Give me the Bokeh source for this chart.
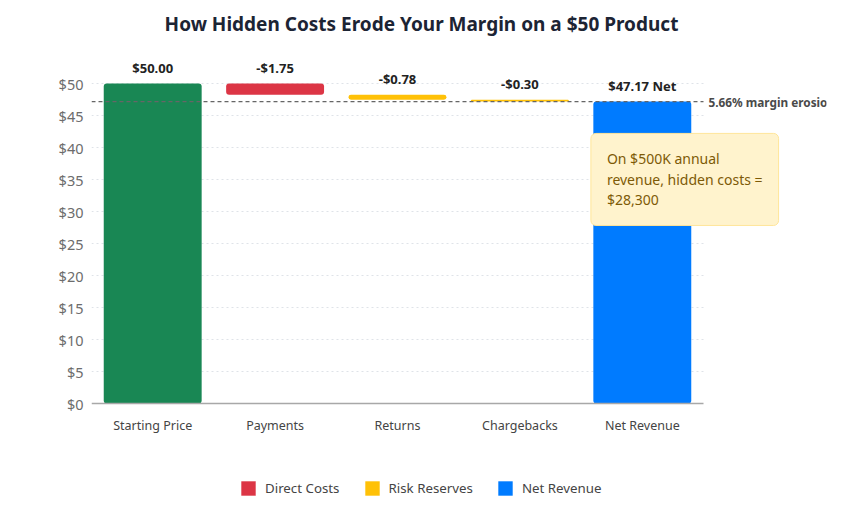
from bokeh.plotting import figure
from bokeh.models import (ColumnDataSource, FixedTicker, Legend, LegendItem, Label, Range1d)
from bokeh.embed import file_html
from bokeh.resources import INLINE
from bokeh.core.properties import value

# --- data -------------------------------------------------------------
title = "How Hidden Costs Erode Your Margin on a $50 Product"
categories = ["Starting Price", "Payments", "Returns", "Chargebacks", "Net Revenue"]
amounts = [50.00, -1.75, -0.78, -0.30, 47.17]
groups = ["Starting Price", "Direct Costs", "Risk Reserves", "Risk Reserves", "Net Revenue"]
group_colors = {
    "Starting Price": "#198754",
    "Direct Costs": "#dc3545",
    "Risk Reserves": "#ffc107",
    "Net Revenue": "#007bff",
}
y_ticks = [0, 5, 10, 15, 20, 25, 30, 35, 40, 45, 50]
annual_revenue = 500_000

FONT = "Noto Sans"

# --- waterfall geometry ---------------------------------------------
bottoms, tops, labels = [], [], []
running = 0.0
for i, a in enumerate(amounts):
    if i == 0:
        bottoms.append(0.0); tops.append(a); running = a
        labels.append(f"${a:.2f}")
    elif i == len(amounts) - 1:
        bottoms.append(0.0); tops.append(a)
        labels.append(f"${a:.2f} Net")
    else:
        tops.append(running); running += a; bottoms.append(running)
        labels.append(f"-${abs(a):.2f}")

xs = list(range(len(categories)))
src = ColumnDataSource(dict(
    x=xs, bottom=bottoms, top=tops, label=labels, cat=categories,
    zero=[0.0] * len(categories),
    color=[group_colors[g] for g in groups], group=groups,
))

net = amounts[-1]
erosion_pct = (amounts[0] - net) / amounts[0] * 100
hidden_cost = annual_revenue * erosion_pct / 100

# --- figure -----------------------------------------------------------
# The plotting frame fills the canvas vertically, so the heading, the
# category labels and the legend are all placed inside it.
W, H = 842, 506
LEFT, RIGHT = 91, 16
BASE_Y = 403          # pixel row of the $0 baseline
TITLE_Y = 23          # pixel row of the heading's centre
PX_PER_DOLLAR = 6.4
SLOT = 122.4          # pixel width of one category slot
frame_w = W - LEFT - RIGHT
x_end = -0.5 + frame_w / SLOT
y_end = BASE_Y / PX_PER_DOLLAR
y_start = -(H - BASE_Y) / PX_PER_DOLLAR

p = figure(width=W, height=H, output_backend="svg", toolbar_location=None,
           x_range=Range1d(-0.5, x_end), y_range=Range1d(y_start, y_end),
           min_border_left=LEFT, min_border_right=RIGHT,
           min_border_top=0, min_border_bottom=0,
           outline_line_color=None, background_fill_color="white",
           border_fill_color="white")
p.grid.visible = False
p.xaxis.visible = False

n = len(categories)

# heading, centred on the page
p.text(x=[(W / 2 - LEFT) / SLOT - 0.5], y=[(BASE_Y - TITLE_Y) / PX_PER_DOLLAR],
       text=[title], text_align="center", text_baseline="middle",
       text_font=value(FONT), text_font_size="19px", text_font_style="bold",
       text_color="#1c2434")

# dotted horizontal guides across the category slots
grid_y = y_ticks[1:]
p.segment(x0=[-0.5] * len(grid_y), x1=[n - 0.5] * len(grid_y),
          y0=grid_y, y1=grid_y, line_color="#dfe3e8", line_dash="2 3", line_width=1)

bars = p.vbar(x="x", bottom="bottom", top="top", width=0.8, source=src,
              fill_color="color", line_color=None, border_radius=3)

# baseline
p.segment(x0=[-0.5], x1=[n - 0.5], y0=[0], y1=[0],
          line_color="#a8a8a8", line_width=1.5)

# category labels under the baseline
p.text(x="x", y="zero", text="cat", source=src, y_offset=22,
       text_align="center", text_baseline="middle",
       text_font=value(FONT), text_font_size="12.5px", text_color="#444444")

# net reference line
p.segment(x0=[-0.5], x1=[n - 0.5], y0=[net], y1=[net],
          line_color="#666666", line_dash="4 3", line_width=1.2)
p.text(x=[n - 0.5], y=[net], text=[f"{erosion_pct:.2f}% margin erosion"],
       x_offset=5, text_baseline="middle", text_align="left",
       text_font=value(FONT), text_font_size="11.8px", text_font_style="bold",
       text_color="#4a4a4a")

# value labels over each bar
p.text(x="x", y="top", text="label", source=src, y_offset=-7,
       text_align="center", text_baseline="bottom",
       text_font=value(FONT), text_font_size="13px", text_font_style="bold",
       text_color="#222222")

# callout box
note = Label(x=3.58, y=42.2, anchor="top_left",
             text=f"On ${annual_revenue // 1000}K annual\nrevenue, hidden costs =\n${hidden_cost:,.0f}",
             text_font=FONT, text_font_size="14px", text_color="#7d5a06",
             text_line_height=1.08,
             background_fill_color="#fff3cd", border_line_color="#ffe59a",
             border_line_width=1, padding=16, border_radius=5)
p.add_layout(note)

# y axis
p.yaxis.ticker = FixedTicker(ticks=y_ticks)
p.yaxis.major_label_overrides = {t: f"${t}" for t in y_ticks}
p.yaxis.axis_line_color = None
p.yaxis.major_tick_line_color = None
p.yaxis.minor_tick_line_color = None
p.yaxis.major_label_standoff = 2
p.yaxis.major_label_text_font = FONT
p.yaxis.major_label_text_font_size = "14.5px"
p.yaxis.major_label_text_color = "#6c6c6c"

# legend (the starting price bar is left out)
legend_items = []
seen = set()
for i, g in enumerate(groups):
    if i == 0 or g in seen:
        continue
    seen.add(g)
    legend_items.append(LegendItem(label=g, renderers=[bars], index=i))
legend = Legend(items=legend_items, orientation="horizontal", location=(148, 9),
                glyph_width=18, glyph_height=18, label_standoff=8, spacing=23,
                padding=0, margin=0, border_line_color=None,
                background_fill_alpha=0,
                label_text_font=FONT, label_text_font_size="13.3px",
                label_text_color="#444444")
p.add_layout(legend)

open("out.html", "w").write(file_html(p, INLINE))
